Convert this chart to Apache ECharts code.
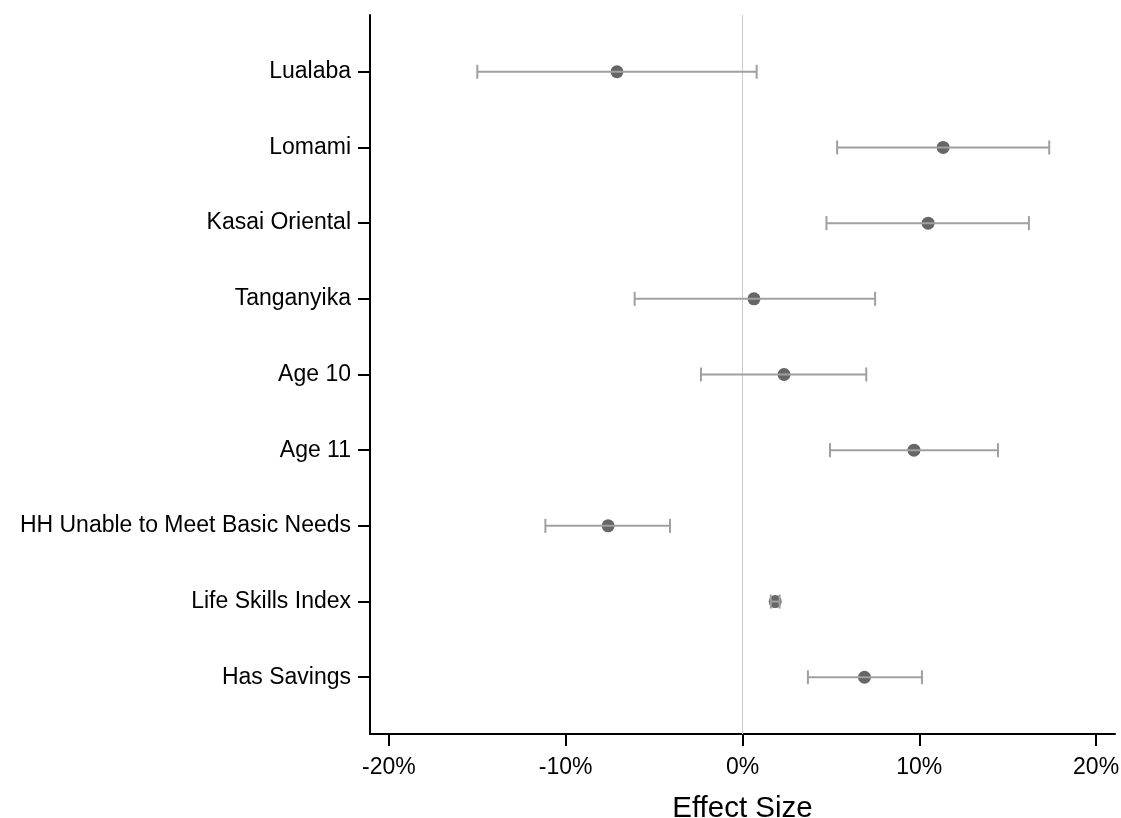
<!DOCTYPE html>
<html>
<head>
<meta charset="utf-8">
<script src="https://cdn.jsdelivr.net/npm/echarts@6/dist/echarts.min.js"></script>
<style>
html,body{margin:0;padding:0;background:#fff;}
#chart{width:1121px;height:818px;}
</style>
</head>
<body>
<div id="chart"></div>
<script>
const categories = ["Lualaba","Lomami","Kasai Oriental","Tanganyika","Age 10","Age 11","HH Unable to Meet Basic Needs","Life Skills Index","Has Savings"];
const estimates = [-7.1, 11.35, 10.5, 0.65, 2.35, 9.7, -7.6, 1.85, 6.9];
const lower = [-15.0, 5.35, 4.75, -6.1, -2.35, 4.95, -11.15, 1.6, 3.7];
const upper = [0.8, 17.35, 16.2, 7.5, 7.0, 14.45, -4.1, 2.1, 10.15];
const xTicks = [-20, -10, 0, 10, 20];

const FONT = '"Liberation Sans", Arial, sans-serif';
const rows = categories.map((c, i) => i + 1);

const pointData = estimates.map((v, i) => [v, rows[i]]);
const barData = estimates.map((v, i) => [lower[i], upper[i], rows[i]]);

const chart = echarts.init(document.getElementById('chart'));
chart.setOption({
  animation: false,
  backgroundColor: '#fff',
  grid: {left: 370, right: 6, top: 15, bottom: 84, containLabel: false, outerBoundsMode: 'none'},
  xAxis: {
    type: 'value',
    min: -21.07, max: 21.07,
    name: 'Effect Size',
    nameLocation: 'middle',
    nameGap: 60,
    nameTextStyle: {fontFamily: FONT, fontSize: 29.5, color: '#000'},
    axisLine: {show: true, onZero: false, lineStyle: {color: '#000', width: 2}},
    axisTick: {show: true, length: 12, lineStyle: {color: '#000', width: 2}, customValues: xTicks},
    axisLabel: {fontFamily: FONT, fontSize: 23, color: '#000', margin: 22, customValues: xTicks,
      formatter: v => Math.round(v) + '%'},
    splitLine: {show: false}
  },
  yAxis: {
    type: 'value',
    inverse: true,
    min: 0.25, max: 9.75,
    axisLine: {show: true, onZero: false, lineStyle: {color: '#000', width: 2}},
    axisTick: {show: true, length: 12, lineStyle: {color: '#000', width: 2}, customValues: rows},
    axisLabel: {fontFamily: FONT, fontSize: 23, color: '#000', margin: 19, customValues: rows,
      formatter: v => categories[Math.round(v) - 1] || ''},
    splitLine: {show: false}
  },
  series: [
    {
      type: 'scatter',
      data: pointData,
      symbol: 'circle',
      symbolSize: 13,
      itemStyle: {color: '#666666', opacity: 1},
      z: 3,
      markLine: {
        silent: true,
        symbol: 'none',
        label: {show: false},
        lineStyle: {color: '#cccccc', width: 1, type: 'solid'},
        data: [{xAxis: 0}],
        z: 1
      }
    },
    {
      type: 'custom',
      data: barData,
      z: 4,
      renderItem: function (params, api) {
        const lo = api.coord([api.value(0), api.value(2)]);
        const hi = api.coord([api.value(1), api.value(2)]);
        const h = 7;
        const style = {stroke: '#a0a0a0', lineWidth: 2, fill: null};
        return {
          type: 'group',
          children: [
            {type: 'line', shape: {x1: lo[0], y1: lo[1], x2: hi[0], y2: hi[1]}, style: style},
            {type: 'line', shape: {x1: lo[0], y1: lo[1] - h, x2: lo[0], y2: lo[1] + h}, style: style},
            {type: 'line', shape: {x1: hi[0], y1: hi[1] - h, x2: hi[0], y2: hi[1] + h}, style: style}
          ]
        };
      }
    }
  ]
});
</script>
</body>
</html>
